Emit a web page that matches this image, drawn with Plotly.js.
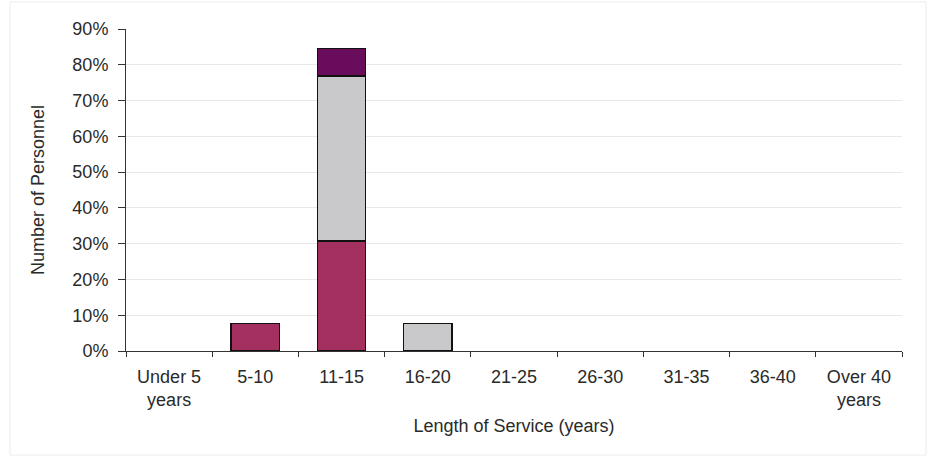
<!DOCTYPE html>
<html>
<head>
<meta charset="utf-8">
<script src="https://cdn.plot.ly/plotly-3.0.1.min.js"></script>
<style>
html,body{margin:0;padding:0;background:#fff;}
#chart{width:930px;height:463px;}
</style>
</head>
<body>
<div id="chart"></div>
<script>
const categories = ["Under 5<br>years","5-10","11-15","16-20","21-25","26-30","31-35","36-40","Over 40<br>years"];
const seriesA = [null, 7.7, 30.8, null, null, null, null, null, null];
const seriesB = [null, null, 46.1, 7.7, null, null, null, null, null];
const seriesC = [null, null, 7.7, null, null, null, null, null, null];
const yTickVals = [0,10,20,30,40,50,60,70,80,90];
const yTickText = ["0%","10%","20%","30%","40%","50%","60%","70%","80%","90%"];

const line = {color:'#111', width:1.5};
const traces = [
  {type:'bar', name:'A', x:categories, y:seriesA, marker:{color:'#A3305F', line:line}},
  {type:'bar', name:'B', x:categories, y:seriesB, marker:{color:'#C9C9CB', line:line}},
  {type:'bar', name:'C', x:categories, y:seriesC, marker:{color:'#6A0C5C', line:line}}
];
const font = {family:'"Liberation Sans", Arial, sans-serif', size:18, color:'#2a2a2a'};
const layout = {
  width:930, height:463,
  barmode:'stack', bargap:0.44,
  showlegend:false,
  paper_bgcolor:'#fff', plot_bgcolor:'#fff',
  margin:{l:126, r:28, t:29, b:112},
  font:font,
  shapes:[{type:'rect', xref:'paper', yref:'paper', x0:-0.1495, x1:1.031, y0:-0.323, y1:1.084,
           line:{color:'#ececec', width:1}, fillcolor:'rgba(0,0,0,0)', layer:'below'}],
  xaxis:{
    type:'category', tickson:'boundaries', ticks:'outside', ticklen:5, tickcolor:'#333',
    ticklabelstandoff:9,
    showline:true, linecolor:'#333', linewidth:1, showgrid:false,
    tickfont:font,
    title:{text:'Length of Service (years)', font:font, standoff:10}
  },
  yaxis:{
    range:[0,90], tickvals:yTickVals, ticktext:yTickText,
    ticks:'outside', ticklen:7, tickcolor:'#333',
    ticklabelstandoff:6,
    showline:true, linecolor:'#333', linewidth:1,
    showgrid:true, gridcolor:'#e8e8e8', gridwidth:1, zeroline:false,
    tickfont:font,
    title:{text:'Number of Personnel', font:font, standoff:23}
  }
};
Plotly.newPlot('chart', traces, layout, {displayModeBar:false, staticPlot:true});
</script>
</body>
</html>
